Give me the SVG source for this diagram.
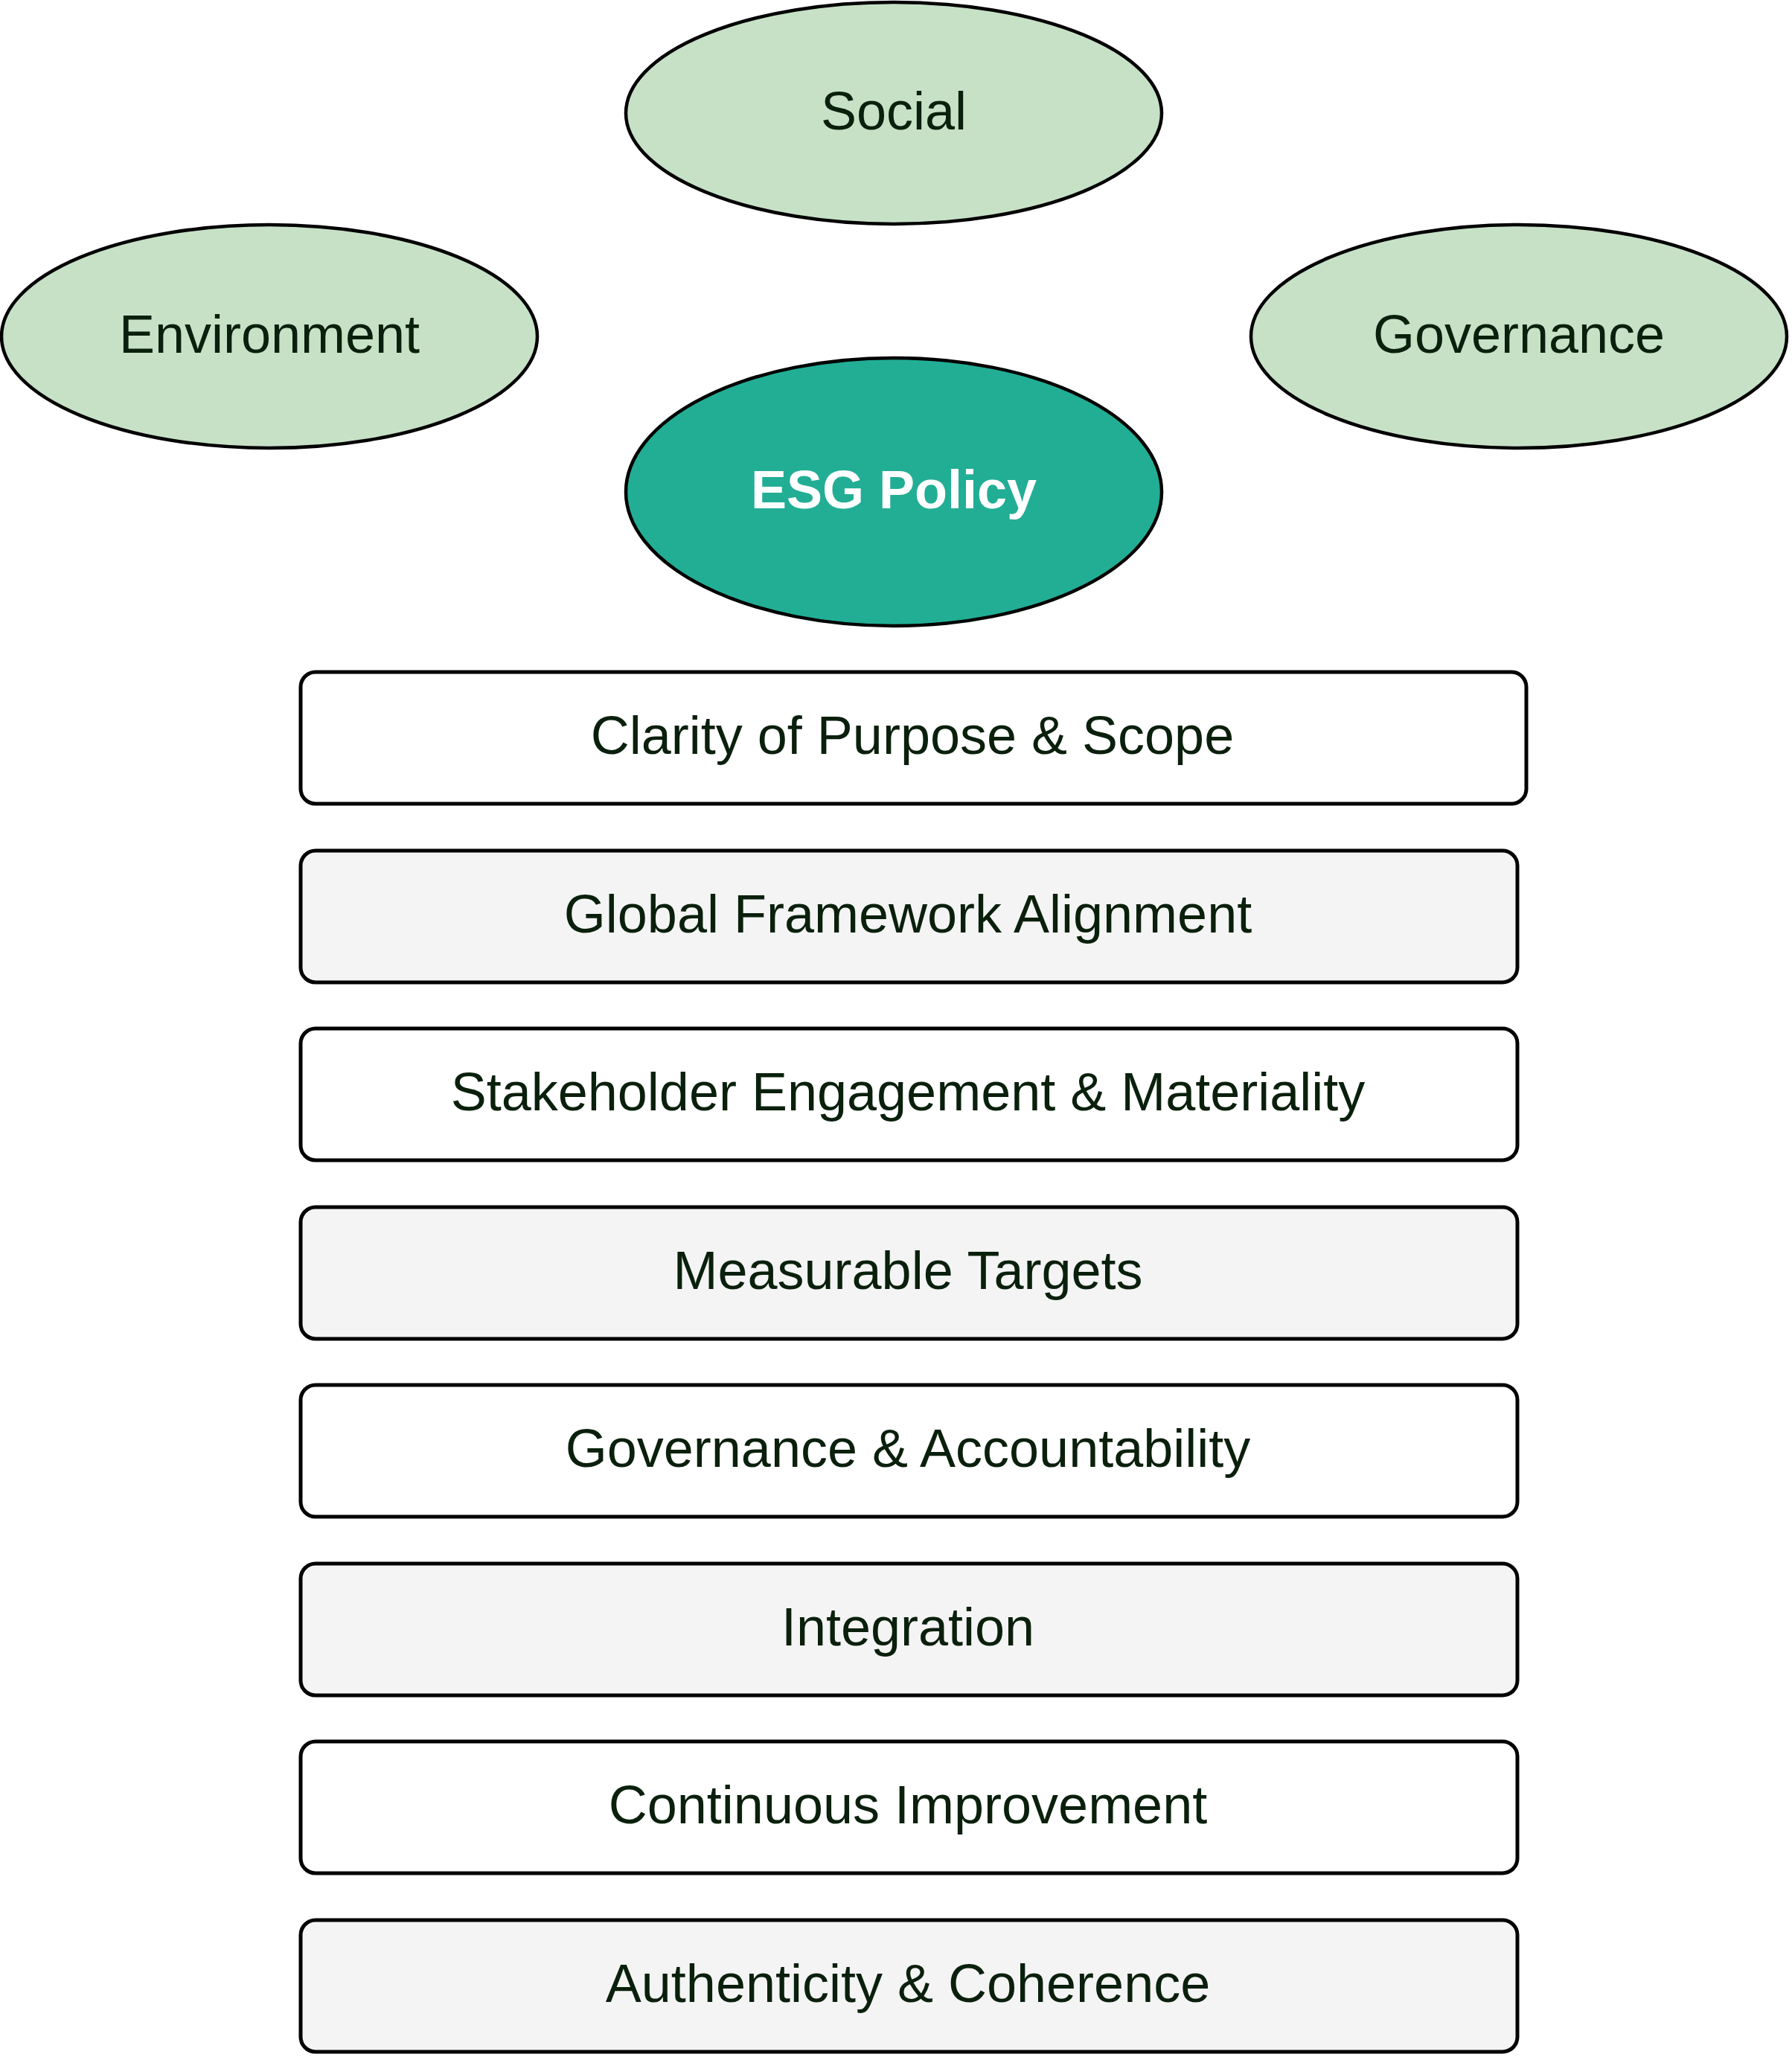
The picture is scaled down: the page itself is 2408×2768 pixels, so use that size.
<svg xmlns="http://www.w3.org/2000/svg" width="2408" height="2768" viewBox="0 0 2408 2768">
<style>
.pillar{fill:#c7e1c7;stroke:#000;stroke-width:4.5}
.core{fill:#22ae95;stroke:#000;stroke-width:4.5}
.box{stroke:#000;stroke-width:5}
.w{fill:#ffffff}
.g{fill:#f4f4f4}
text{font-family:"Liberation Sans",Arial,sans-serif;font-size:72px;text-anchor:middle;fill:#0a200c}
.bold{font-weight:bold;fill:#ffffff}
</style>
<rect width="2408" height="2768" fill="#ffffff"/>
<g id="connectors"/>
<g id="social"><ellipse class="pillar" cx="1201" cy="152" rx="360" ry="149"/><text x="1201" y="174">Social</text></g>
<g id="environment"><ellipse class="pillar" cx="362" cy="452" rx="360" ry="150"/><text x="362" y="474">Environment</text></g>
<g id="governance"><ellipse class="pillar" cx="2041" cy="452" rx="360" ry="150"/><text x="2041" y="474">Governance</text></g>
<g id="esg-policy"><ellipse class="core" cx="1201" cy="661" rx="360" ry="180"/><text class="bold" x="1201" y="683">ESG Policy</text></g>
<g id="clarity"><rect class="box w" x="404" y="903" width="1647" height="177" rx="20"/><text x="1226" y="1013">Clarity of Purpose &amp; Scope</text></g>
<g id="framework"><rect class="box g" x="404" y="1143" width="1635" height="177" rx="20"/><text x="1220" y="1253">Global Framework Alignment</text></g>
<g id="stakeholder"><rect class="box w" x="404" y="1382" width="1635" height="177" rx="20"/><text x="1220" y="1492">Stakeholder Engagement &amp; Materiality</text></g>
<g id="targets"><rect class="box g" x="404" y="1622" width="1635" height="177" rx="20"/><text x="1220" y="1732">Measurable Targets</text></g>
<g id="accountability"><rect class="box w" x="404" y="1861" width="1635" height="177" rx="20"/><text x="1220" y="1971">Governance &amp; Accountability</text></g>
<g id="integration"><rect class="box g" x="404" y="2101" width="1635" height="177" rx="20"/><text x="1220" y="2211">Integration</text></g>
<g id="improvement"><rect class="box w" x="404" y="2340" width="1635" height="177" rx="20"/><text x="1220" y="2450">Continuous Improvement</text></g>
<g id="authenticity"><rect class="box g" x="404" y="2580" width="1635" height="177" rx="20"/><text x="1220" y="2690">Authenticity &amp; Coherence</text></g>
</svg>
